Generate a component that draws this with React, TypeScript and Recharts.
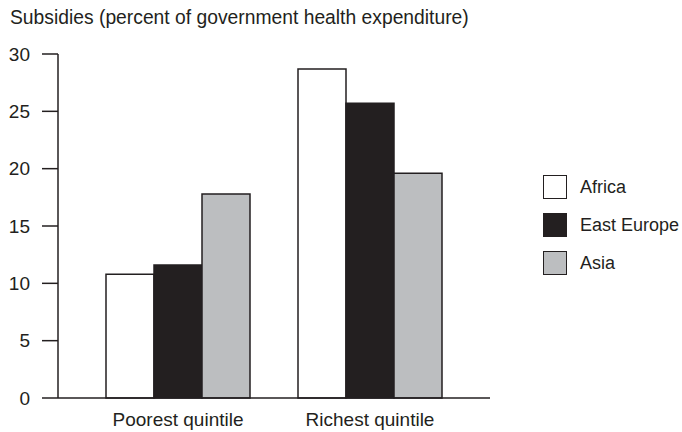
import React from 'react';
import { BarChart, Bar, XAxis, YAxis } from 'recharts';

// ── Data ──────────────────────────────────────────────────────────────────────

const CATEGORIES = ['Poorest quintile', 'Richest quintile'];
const AFRICA = [10.8, 28.7];
const EAST_EUROPE = [11.6, 25.7];
const ASIA = [17.8, 19.6];
const Y_TICKS = [0, 5, 10, 15, 20, 25, 30];

const SERIES = [
  { key: 'africa', name: 'Africa', fill: '#ffffff' },
  { key: 'eastEurope', name: 'East Europe', fill: '#231f20' },
  { key: 'asia', name: 'Asia', fill: '#bcbec0' },
];

const INK = '#231f20';
const FONT = '"Liberation Sans", Arial, sans-serif';

const data = CATEGORIES.map((c, i) => ({
  category: c,
  africa: AFRICA[i],
  eastEurope: EAST_EUROPE[i],
  asia: ASIA[i],
}));

// ── Legend (plain html, so it doesn't eat chart space) ───────────────────────

const SquareLegend: React.FC = () => (
  <div
    style={{
      position: 'absolute', left: 543, top: 168,
      fontFamily: FONT, fontSize: 18, color: INK, whiteSpace: 'nowrap',
    }}
  >
    {SERIES.map((s) => (
      <div key={s.key} style={{ display: 'flex', alignItems: 'center', height: 38 }}>
        <span
          style={{
            width: 22, height: 22, background: s.fill,
            border: `1.5px solid ${INK}`, marginRight: 13, flexShrink: 0,
          }}
        />
        <span>{s.name}</span>
      </div>
    ))}
  </div>
);

// ── Chart ─────────────────────────────────────────────────────────────────────

export default function App() {
  return (
    <div style={{ position: 'absolute', left: 0, top: 0, width: 682, height: 432, background: '#fff', overflow: 'hidden' }}>
      <div
        style={{
          position: 'absolute', left: 10, top: 7, fontFamily: FONT,
          fontSize: 19.3, color: INK, whiteSpace: 'nowrap',
        }}
      >
        Subsidies (percent of government health expenditure)
      </div>
      <BarChart
        width={682}
        height={432}
        data={data}
        margin={{ top: 54, right: 192, bottom: 0, left: 0 }}
        barCategoryGap={24}
        barGap={0}
      >
        <XAxis
          dataKey="category"
          padding={{ left: 24, right: 24 }}
          tickLine={false}
          axisLine={{ stroke: INK, strokeWidth: 1.5 }}
          height={34}
          tickMargin={9}
          tick={{ fill: INK, fontSize: 19, fontFamily: FONT }}
        />
        <XAxis
          xAxisId="top"
          orientation="top"
          dataKey="category"
          tick={false}
          tickLine={false}
          height={0}
          axisLine={{ stroke: INK, strokeWidth: 1.5 }}
        />
        <YAxis
          domain={[0, 30]}
          ticks={Y_TICKS}
          width={58}
          tickSize={16}
          tickMargin={12}
          axisLine={{ stroke: INK, strokeWidth: 1.5 }}
          tickLine={{ stroke: INK, strokeWidth: 1.5 }}
          tick={{ fill: INK, fontSize: 19, fontFamily: FONT }}
        />
        <YAxis
          yAxisId="right"
          orientation="right"
          domain={[0, 30]}
          width={0}
          tick={false}
          tickLine={false}
          axisLine={{ stroke: INK, strokeWidth: 1.5 }}
        />
        {SERIES.map((s) => (
          <Bar
            key={s.key}
            dataKey={s.key}
            name={s.name}
            fill={s.fill}
            stroke={INK}
            strokeWidth={1.5}
            isAnimationActive={false}
          />
        ))}
      </BarChart>
      <SquareLegend />
    </div>
  );
}
